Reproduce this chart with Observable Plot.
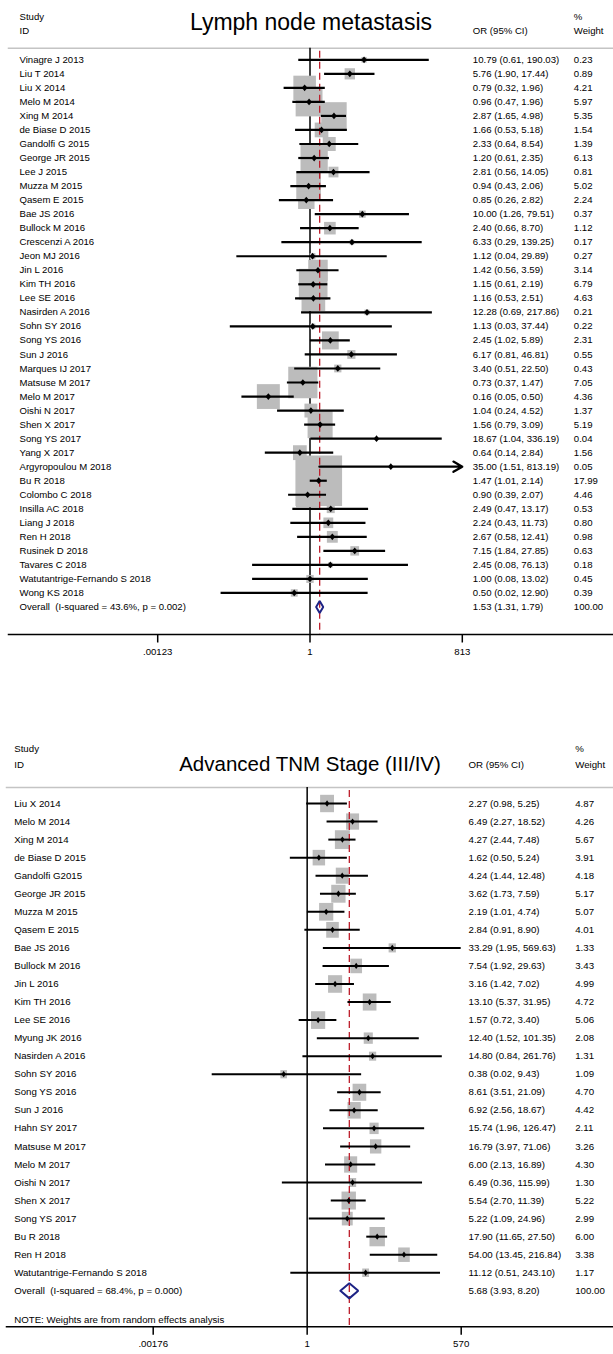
<!DOCTYPE html>
<html><head><meta charset="utf-8">
<script src="https://cdn.jsdelivr.net/npm/d3@7"></script>
<script src="https://cdn.jsdelivr.net/npm/@observablehq/plot@0.6"></script>
<style>
body{margin:0;background:#fff;}
#chart svg{display:block;}
</style></head><body><div id="chart"></div>
<script>
// ---------- Panel 1: Lymph node metastasis ----------
const lnmTitle = "Lymph node metastasis";
const lnmStudies = ["Vinagre J 2013","Liu T 2014","Liu X 2014","Melo M 2014","Xing M 2014","de Biase D 2015","Gandolfi G 2015","George JR 2015","Lee J 2015","Muzza M 2015","Qasem E 2015","Bae JS 2016","Bullock M 2016","Crescenzi A 2016","Jeon MJ 2016","Jin L 2016","Kim TH 2016","Lee SE 2016","Nasirden A 2016","Sohn SY 2016","Song YS 2016","Sun J 2016","Marques IJ 2017","Matsuse M 2017","Melo M 2017","Oishi N 2017","Shen X 2017","Song YS 2017","Yang X 2017","Argyropoulou M 2018","Bu R 2018","Colombo C 2018","Insilla AC 2018","Liang J 2018","Ren H 2018","Rusinek D 2018","Tavares C 2018","Watutantrige-Fernando S 2018","Wong KS 2018"];
const lnmOR = [10.79,5.76,0.79,0.96,2.87,1.66,2.33,1.20,2.81,0.94,0.85,10.00,2.40,6.33,1.12,1.42,1.15,1.16,12.28,1.13,2.45,6.17,3.40,0.73,0.16,1.04,1.56,18.67,0.64,35.00,1.47,0.90,2.49,2.24,2.67,7.15,2.45,1.00,0.50];
const lnmLo = [0.61,1.90,0.32,0.47,1.65,0.53,0.64,0.61,0.56,0.43,0.26,1.26,0.66,0.29,0.04,0.56,0.61,0.53,0.69,0.03,1.02,0.81,0.51,0.37,0.05,0.24,0.79,1.04,0.14,1.51,1.01,0.39,0.47,0.43,0.58,1.84,0.08,0.08,0.02];
const lnmHi = [190.03,17.44,1.96,1.96,4.98,5.18,8.54,2.35,14.05,2.06,2.82,79.51,8.70,139.25,29.89,3.59,2.19,2.51,217.86,37.44,5.89,46.81,22.50,1.47,0.50,4.52,3.09,336.19,2.84,813.19,2.14,2.07,13.17,11.73,12.41,27.85,76.13,13.02,12.90];
const lnmWeight = [0.23,0.89,4.21,5.97,5.35,1.54,1.39,6.13,0.81,5.02,2.24,0.37,1.12,0.17,0.27,3.14,6.79,4.63,0.21,0.22,2.31,0.55,0.43,7.05,4.36,1.37,5.19,0.04,1.56,0.05,17.99,4.46,0.53,0.80,0.98,0.63,0.18,0.45,0.39];
const lnmOverall = [1.53, 1.31, 1.79, 100.00];
const lnmOverallLabel = "Overall\u00a0\u00a0(I-squared = 43.6%, p = 0.002)";
const lnmTicks = [0.00123, 1, 813];
const lnmTickLabels = [".00123", "1", "813"];

// ---------- Panel 2: Advanced TNM Stage (III/IV) ----------
const tnmTitle = "Advanced TNM Stage (III/IV)";
const tnmStudies = ["Liu X 2014","Melo M 2014","Xing M 2014","de Biase D 2015","Gandolfi G2015","George JR 2015","Muzza M 2015","Qasem E 2015","Bae JS 2016","Bullock M 2016","Jin L 2016","Kim TH 2016","Lee SE 2016","Myung JK 2016","Nasirden A 2016","Sohn SY 2016","Song YS 2016","Sun J 2016","Hahn SY 2017","Matsuse M 2017","Melo M 2017","Oishi N 2017","Shen X 2017","Song YS 2017","Bu R 2018","Ren H 2018","Watutantrige-Fernando S 2018"];
const tnmOR = [2.27,6.49,4.27,1.62,4.24,3.62,2.19,2.84,33.29,7.54,3.16,13.10,1.57,12.40,14.80,0.38,8.61,6.92,15.74,16.79,6.00,6.49,5.54,5.22,17.90,54.00,11.12];
const tnmLo = [0.98,2.27,2.44,0.50,1.44,1.73,1.01,0.91,1.95,1.92,1.42,5.37,0.72,1.52,0.84,0.02,3.51,2.56,1.96,3.97,2.13,0.36,2.70,1.09,11.65,13.45,0.51];
const tnmHi = [5.25,18.52,7.48,5.24,12.48,7.59,4.74,8.90,569.63,29.63,7.02,31.95,3.40,101.35,261.76,9.43,21.09,18.67,126.47,71.06,16.89,115.99,11.39,24.96,27.50,216.84,243.10];
const tnmWeight = [4.87,4.26,5.67,3.91,4.18,5.17,5.07,4.01,1.33,3.43,4.99,4.72,5.06,2.08,1.31,1.09,4.70,4.42,2.11,3.26,4.30,1.30,5.22,2.99,6.00,3.38,1.17];
const tnmOverall = [5.68, 3.93, 8.20, 100.00];
const tnmOverallLabel = "Overall\u00a0\u00a0(I-squared = 68.4%, p = 0.000)";
const tnmNote = "NOTE: Weights are from random effects analysis";
const tnmTicks = [0.00176, 1, 570];
const tnmTickLabels = [".00176", "1", "570"];

// header texts
const hdrStudy = "Study", hdrID = "ID", hdrOR = "OR (95% CI)", hdrPct = "%", hdrWeight = "Weight";

function rectSymbol(aspect) {
  return {draw(ctx, size) { const r = Math.sqrt(size / Math.PI); ctx.rect(-r, -r * aspect, 2 * r, 2 * r * aspect); }};
}
function diamondSymbol(ax, ay) {
  return {draw(ctx, size) { const r = Math.sqrt(size / Math.PI);
    ctx.moveTo(0, -r * ay); ctx.lineTo(r * ax, 0); ctx.lineTo(0, r * ay); ctx.lineTo(-r * ax, 0); ctx.closePath(); }};
}
function tickSymbol(len) {
  return {draw(ctx) { ctx.moveTo(0, 0); ctx.lineTo(0, len); }};
}

const FONT = "'Liberation Sans', Arial, Helvetica, sans-serif";

function forest(d, L) {
  const xmin = d.ticks[0], xmax = d.ticks[d.ticks.length - 1];
  const n = d.names.length;
  const rows = d.names.map((name, i) => ({i, name, or: d.or[i], lo: d.lo[i], hi: d.hi[i], hiClip: Math.min(d.hi[i], xmax), w: d.w[i]}));
  const all = [...rows, {i: n, name: d.overallLabel, or: d.overall[0], lo: d.overall[1], hi: d.overall[2], w: d.overall[3]}];
  const o = all[n];
  const dia = [{x: o.lo, y: n}, {x: o.or, y: n - L.diaH}, {x: o.hi, y: n}, {x: o.or, y: n + L.diaH}, {x: o.lo, y: n}];
  const ticks = d.ticks.map((v, k) => ({v, label: d.tickLabels[k]}));
  const txt = {fontSize: L.fs, fill: "#000", textAnchor: "start"};
  const marks = [
    Plot.frame({anchor: "top", stroke: "#c4c4c4", strokeWidth: 1.5}),
    Plot.ruleX([1], {stroke: "#000", strokeWidth: 1.5}),
    Plot.dot(rows, {x: "or", y: "i", r: "w", symbol: rectSymbol(L.boxAspect), fill: "#bcbcbc", stroke: "none"}),
    Plot.ruleX([o.or], {stroke: "#bd1e2c", strokeWidth: 1.3, strokeDasharray: "7,4", insetTop: 3}),
    Plot.ruleY(rows.filter(r => r.hi <= xmax), {y: "i", x1: "lo", x2: "hi", stroke: "#000", strokeWidth: L.ciW}),
    Plot.arrow(rows.filter(r => r.hi > xmax), {x1: "lo", x2: "hiClip", y1: "i", y2: "i", stroke: "#000", strokeWidth: L.ciW, headLength: 7}),
    Plot.dot(rows, {x: "or", y: "i", r: 3, symbol: diamondSymbol(L.ptAx, L.ptAy), fill: "#000", stroke: "none"}),
    Plot.line(dia, {x: "x", y: "y", stroke: "#1d2385", strokeWidth: 2, strokeLinejoin: "miter"}),
    Plot.frame({anchor: "bottom", stroke: "#000", strokeWidth: 1.5}),
    // x axis ticks and labels
    Plot.dot(ticks, {x: "v", frameAnchor: "bottom", r: 1, symbol: tickSymbol(8), stroke: "#000", strokeWidth: 1.5, fill: "none"}),
    Plot.text(ticks, {x: "v", text: "label", frameAnchor: "bottom", dy: 20, fontSize: L.fs, fill: "#000", textAnchor: "middle"}),
    // columns
    Plot.text(all, {y: "i", text: "name", frameAnchor: "left", dx: L.nameDx, ...txt}),
    Plot.text(all, {y: "i", text: r => `${r.or.toFixed(2)} (${r.lo.toFixed(2)}, ${r.hi.toFixed(2)})`, frameAnchor: "left", dx: L.orDx, ...txt}),
    Plot.text(all, {y: "i", text: r => r.w.toFixed(2), frameAnchor: "left", dx: L.wDx, ...txt}),
    // headers
    Plot.text([hdrStudy], {text: t => t, frameAnchor: "top-left", dx: L.nameDx, dy: L.hdr1, lineAnchor: "bottom", ...txt}),
    Plot.text([hdrID], {text: t => t, frameAnchor: "top-left", dx: L.nameDx, dy: L.hdr2, lineAnchor: "bottom", ...txt}),
    Plot.text([hdrOR], {text: t => t, frameAnchor: "top-left", dx: L.orDx, dy: L.hdr2, lineAnchor: "bottom", ...txt}),
    Plot.text([hdrPct], {text: t => t, frameAnchor: "top-left", dx: L.wDx, dy: L.hdr1, lineAnchor: "bottom", ...txt}),
    Plot.text([hdrWeight], {text: t => t, frameAnchor: "top-left", dx: L.wDx, dy: L.hdr2, lineAnchor: "bottom", ...txt}),
    Plot.text([d.title], {text: t => t, frameAnchor: "top", dy: L.titleDy, lineAnchor: "bottom", fontSize: L.titleFs, fill: "#000", textAnchor: "middle"})
  ];
  if (d.note) marks.push(Plot.text([d.note], {text: t => t, frameAnchor: "bottom-left", dx: L.nameDx, dy: L.noteDy, lineAnchor: "bottom", ...txt}));
  return Plot.plot({
    width: 613, height: L.height,
    marginLeft: L.ml, marginRight: 0, marginTop: L.mt, marginBottom: L.mb,
    style: {fontFamily: FONT, background: "#fff", overflow: "visible"},
    x: {type: "log", domain: [xmin, xmax], range: L.xRange, axis: null},
    y: {type: "linear", domain: [0, n], range: L.yRange, axis: null},
    r: {type: "sqrt", domain: [0, 1], range: [0, L.boxK / 2]},
    marks
  });
}

const lnmChart = forest(
  {names: lnmStudies, or: lnmOR, lo: lnmLo, hi: lnmHi, w: lnmWeight, overall: lnmOverall, overallLabel: lnmOverallLabel, ticks: lnmTicks, tickLabels: lnmTickLabels, title: lnmTitle},
  {height: 732, ml: 8, mt: 47.7, mb: 98, xRange: [157.2, 461.8], yRange: [59.3, 606.5], fs: 9.6, titleFs: 23, titleDy: -18.4,
   nameDx: 11, orDx: 464.3, wDx: 565.3, hdr1: -28.3, hdr2: -13.8, boxK: 11, boxAspect: 1.08, ciW: 2.2, ptAx: 0.95, ptAy: 1.12, diaH: 0.42}
);
const tnmChart = forest(
  {names: tnmStudies, or: tnmOR, lo: tnmLo, hi: tnmHi, w: tnmWeight, overall: tnmOverall, overallLabel: tnmOverallLabel, ticks: tnmTicks, tickLabels: tnmTickLabels, title: tnmTitle, note: tnmNote},
  {height: 622, ml: 6, mt: 55, mb: 27.7, xRange: [152.7, 460.7], yRange: [71, 558.3], fs: 9.7, titleFs: 20.5, titleDy: -16.5,
   nameDx: 7.7, orDx: 462, wDx: 568.7, hdr1: -35.4, hdr2: -19.8, noteDy: -4, boxK: 6.3, boxAspect: 1.25, ciW: 2, ptAx: 0.75, ptAy: 1.05, diaH: 0.42}
);
document.getElementById("chart").append(lnmChart, tnmChart);
</script></body></html>
